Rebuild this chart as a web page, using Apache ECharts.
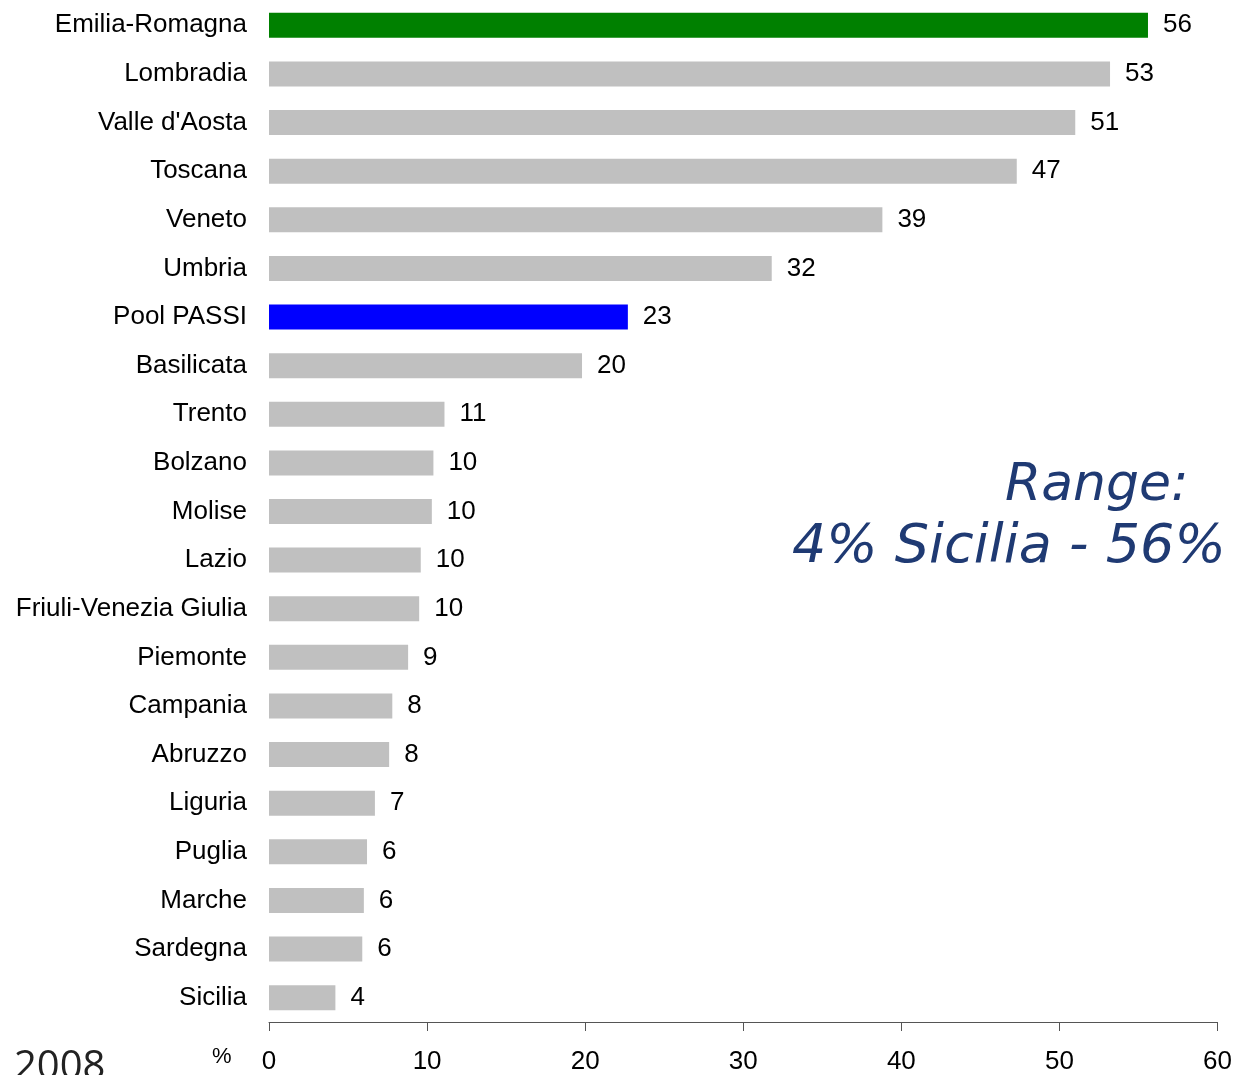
<!DOCTYPE html>
<html><head><meta charset="utf-8">
<script src="https://cdn.jsdelivr.net/npm/echarts@6/dist/echarts.min.js"></script>
<style>html,body{margin:0;padding:0;background:#fff}#c{width:1235px;height:1075px}</style>
</head><body><div id="c"></div>
<script>
const categories = ["Emilia-Romagna","Lombradia","Valle d'Aosta","Toscana","Veneto","Umbria","Pool PASSI","Basilicata","Trento","Bolzano","Molise","Lazio","Friuli-Venezia Giulia","Piemonte","Campania","Abruzzo","Liguria","Puglia","Marche","Sardegna","Sicilia"];
const values = [55.6,53.2,51.0,47.3,38.8,31.8,22.7,19.8,11.1,10.4,10.3,9.6,9.5,8.8,7.8,7.6,6.7,6.2,6.0,5.9,4.2];
const valueLabels = [56,53,51,47,39,32,23,20,11,10,10,10,10,9,8,8,7,6,6,6,4];
const xTicks = [0,10,20,30,40,50,60];
const highlight = {"Emilia-Romagna":"#008000","Pool PASSI":"#0000FF"};

const chart = echarts.init(document.getElementById('c'));
chart.setOption({
  animation:false,
  grid:{left:269,right:17,top:1,bottom:53,containLabel:false},
  xAxis:{type:'value',min:xTicks[0],max:xTicks[xTicks.length-1],interval:10,
    axisLine:{show:true,lineStyle:{color:'#555',width:1}},
    axisTick:{show:true,inside:false,length:9,lineStyle:{color:'#555'}},
    splitLine:{show:false},
    axisLabel:{fontFamily:'Liberation Sans, Arial',fontSize:26,color:'#000',margin:27}},
  yAxis:{type:'category',data:categories,inverse:true,
    axisLine:{show:false},axisTick:{show:false},
    axisLabel:{fontFamily:'Liberation Sans, Arial',fontSize:26,color:'#000',margin:22}},
  series:[{type:'bar',barWidth:25,
    data:values.map((v,i)=>({value:v,itemStyle:{color:highlight[categories[i]]||'#C0C0C0'}})),
    label:{show:true,position:'right',distance:15,fontFamily:'Liberation Sans, Arial',fontSize:26,color:'#000',
      formatter:p=>String(valueLabels[p.dataIndex])}}],
  graphic:[
    {type:'text',left:1005,top:460,style:{text:'Range:',font:'italic 52px "DejaVu Sans"',fill:'#1F3A73'}},
    {type:'text',left:792,top:521,style:{text:'4% Sicilia - 56%',font:'italic 54px "DejaVu Sans"',fill:'#1F3A73'}},
    {type:'text',left:212,top:1046,style:{text:'%',font:'22px "Liberation Sans"',fill:'#000'}},
    {type:'text',left:14,top:1048,style:{text:'2008',font:'40px "Open Sans"',fill:'#222'}}
  ]
});
</script></body></html>
